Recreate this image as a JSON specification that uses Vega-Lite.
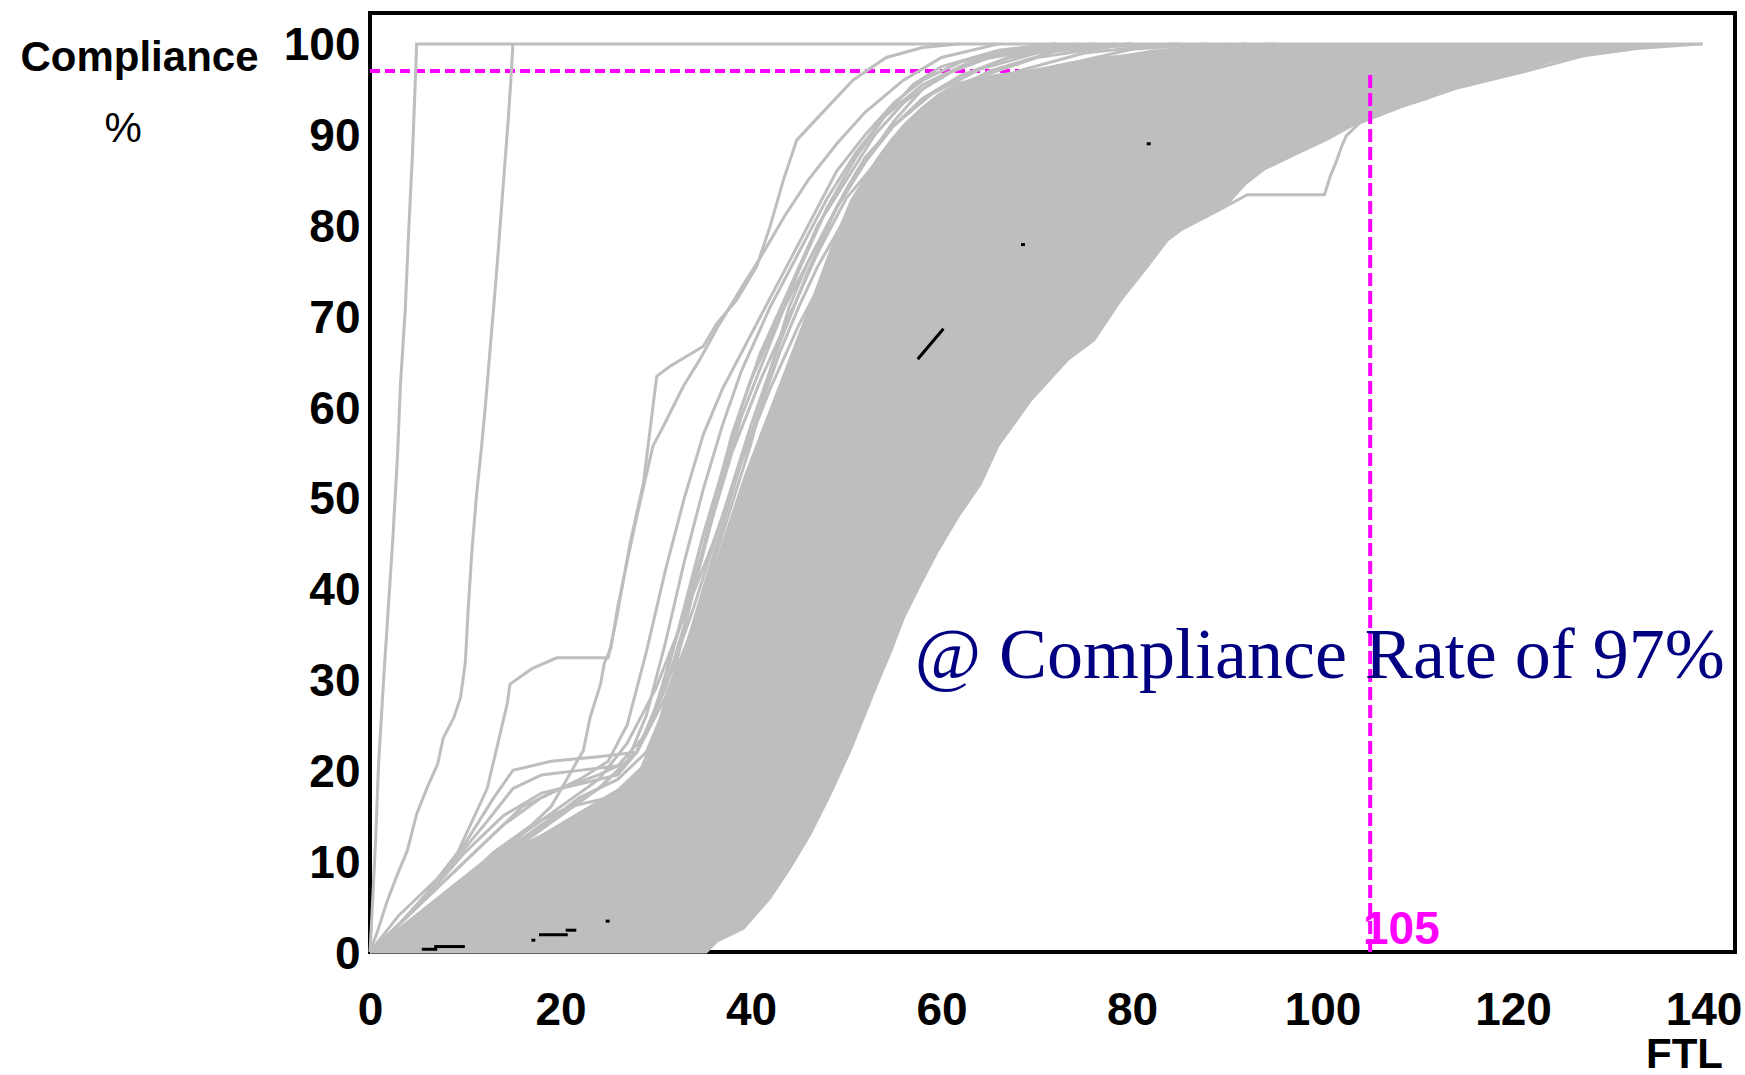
{
  "$schema": "https://vega.github.io/schema/vega-lite/v6.json",
  "width": 1365,
  "height": 939,
  "autosize": {"type": "none"},
  "padding": {"left": 370, "top": 13, "right": 10, "bottom": 123},
  "background": "#ffffff",
  "config": {"view": {"stroke": "#000000", "strokeWidth": 4}},
  "datasets": {
    "band": [
      {"x": 0, "y": 0, "y2": 0}, {"x": 3, "y": 0, "y2": 2.5}, {"x": 6, "y": 0, "y2": 5}, {"x": 10, "y": 0, "y2": 8},
      {"x": 14, "y": 0, "y2": 11}, {"x": 18, "y": 0, "y2": 13}, {"x": 22, "y": 0, "y2": 15.5}, {"x": 26, "y": 0, "y2": 18},
      {"x": 29, "y": 0, "y2": 21}, {"x": 31, "y": 0, "y2": 27}, {"x": 33, "y": 0, "y2": 33}, {"x": 35.3, "y": 0, "y2": 40.5},
      {"x": 36.4, "y": 1.2, "y2": 43.5}, {"x": 38, "y": 2, "y2": 48.5}, {"x": 39.2, "y": 2.6, "y2": 52.3}, {"x": 40, "y": 3.5, "y2": 54.5},
      {"x": 42, "y": 6, "y2": 60}, {"x": 44.1, "y": 9.3, "y2": 65.7}, {"x": 46.2, "y": 13, "y2": 71.5}, {"x": 48.3, "y": 17.4, "y2": 77.5},
      {"x": 50.4, "y": 22.2, "y2": 82.8}, {"x": 52, "y": 26, "y2": 85.5}, {"x": 53.2, "y": 29.5, "y2": 87.5}, {"x": 54.7, "y": 33.2, "y2": 89.6},
      {"x": 56, "y": 36.8, "y2": 91.2}, {"x": 57.8, "y": 40.6, "y2": 93}, {"x": 59.6, "y": 44.2, "y2": 94.5}, {"x": 61.7, "y": 47.9, "y2": 95.8},
      {"x": 64.1, "y": 51.6, "y2": 96.4}, {"x": 65.9, "y": 55.7, "y2": 96.7}, {"x": 68, "y": 58.5, "y2": 97}, {"x": 69.3, "y": 60.7, "y2": 97.2},
      {"x": 71, "y": 62.8, "y2": 97.5}, {"x": 73.2, "y": 65.2, "y2": 98}, {"x": 75, "y": 66.5, "y2": 98.3}, {"x": 76, "y": 67.4, "y2": 98.5},
      {"x": 78.8, "y": 71.8, "y2": 98.8}, {"x": 80, "y": 73.5, "y2": 99}, {"x": 81.6, "y": 75.5, "y2": 99.2}, {"x": 83.7, "y": 78.4, "y2": 99.4},
      {"x": 85.1, "y": 79.5, "y2": 99.5}, {"x": 88.6, "y": 81.4, "y2": 99.8}, {"x": 90.3, "y": 82.5, "y2": 100}, {"x": 92, "y": 84.5, "y2": 100},
      {"x": 94, "y": 86.1, "y2": 100}, {"x": 97.2, "y": 87.7, "y2": 100}, {"x": 100.6, "y": 89.4, "y2": 100}, {"x": 103.9, "y": 91.3, "y2": 100},
      {"x": 106, "y": 92.1, "y2": 100}, {"x": 108.1, "y": 93, "y2": 100}, {"x": 110.9, "y": 93.8, "y2": 100}, {"x": 114, "y": 95.1, "y2": 100},
      {"x": 117.6, "y": 96, "y2": 100}, {"x": 121.4, "y": 97, "y2": 100}, {"x": 123.9, "y": 97.9, "y2": 100}, {"x": 127.4, "y": 98.7, "y2": 100},
      {"x": 130.8, "y": 99.2, "y2": 100}, {"x": 134, "y": 99.5, "y2": 100}, {"x": 137.8, "y": 99.8, "y2": 100}, {"x": 139.9, "y": 100, "y2": 100}
    ],
    "curves": [
      {"id": "O1", "x": 0, "y": 0}, {"id": "O1", "x": 0.2, "y": 4}, {"id": "O1", "x": 0.6, "y": 12.6}, {"id": "O1", "x": 0.9, "y": 20.7},
      {"id": "O1", "x": 1.4, "y": 29.5}, {"id": "O1", "x": 1.9, "y": 37.6}, {"id": "O1", "x": 2.4, "y": 45.6}, {"id": "O1", "x": 2.9, "y": 54.9},
      {"id": "O1", "x": 3.2, "y": 62.6}, {"id": "O1", "x": 3.7, "y": 70.7}, {"id": "O1", "x": 4.05, "y": 79.2}, {"id": "O1", "x": 4.45, "y": 87.7},
      {"id": "O1", "x": 4.75, "y": 95.7}, {"id": "O1", "x": 4.9, "y": 100}, {"id": "O1", "x": 139.9, "y": 100},

      {"id": "O2", "x": 0, "y": 0}, {"id": "O2", "x": 0.8, "y": 2.3}, {"id": "O2", "x": 1.8, "y": 5.6}, {"id": "O2", "x": 2.9, "y": 8.6},
      {"id": "O2", "x": 3.9, "y": 11.1}, {"id": "O2", "x": 4.9, "y": 15.2}, {"id": "O2", "x": 6, "y": 18.1}, {"id": "O2", "x": 7.1, "y": 20.7},
      {"id": "O2", "x": 7.7, "y": 23.6}, {"id": "O2", "x": 8.8, "y": 25.8}, {"id": "O2", "x": 9.5, "y": 28}, {"id": "O2", "x": 10, "y": 31.8},
      {"id": "O2", "x": 10.3, "y": 37.6}, {"id": "O2", "x": 10.7, "y": 44.2}, {"id": "O2", "x": 11.2, "y": 50.5}, {"id": "O2", "x": 11.7, "y": 55.5},
      {"id": "O2", "x": 12.1, "y": 60}, {"id": "O2", "x": 12.5, "y": 65}, {"id": "O2", "x": 12.9, "y": 70}, {"id": "O2", "x": 13.3, "y": 75},
      {"id": "O2", "x": 13.7, "y": 80.5}, {"id": "O2", "x": 14.1, "y": 86}, {"id": "O2", "x": 14.5, "y": 91.5}, {"id": "O2", "x": 14.85, "y": 97},
      {"id": "O2", "x": 15, "y": 100},

      {"id": "O3", "x": 0, "y": 0}, {"id": "O3", "x": 3, "y": 3}, {"id": "O3", "x": 6, "y": 6.5}, {"id": "O3", "x": 9, "y": 10.5},
      {"id": "O3", "x": 12.3, "y": 18}, {"id": "O3", "x": 14.4, "y": 27.3}, {"id": "O3", "x": 14.7, "y": 29.5}, {"id": "O3", "x": 17, "y": 31.2},
      {"id": "O3", "x": 19.6, "y": 32.4}, {"id": "O3", "x": 25, "y": 32.4}, {"id": "O3", "x": 25.9, "y": 36.8}, {"id": "O3", "x": 27.3, "y": 45},
      {"id": "O3", "x": 28.7, "y": 51.6}, {"id": "O3", "x": 30.1, "y": 63.4}, {"id": "O3", "x": 31.5, "y": 64.5}, {"id": "O3", "x": 35, "y": 66.7},
      {"id": "O3", "x": 36.4, "y": 69.2}, {"id": "O3", "x": 38.5, "y": 71.8}, {"id": "O3", "x": 40.6, "y": 75.5}, {"id": "O3", "x": 42, "y": 79.9},
      {"id": "O3", "x": 43.4, "y": 85}, {"id": "O3", "x": 44.8, "y": 89.4}, {"id": "O3", "x": 47.2, "y": 92.1}, {"id": "O3", "x": 50.7, "y": 96},
      {"id": "O3", "x": 54.2, "y": 98.5}, {"id": "O3", "x": 58, "y": 99.6}, {"id": "O3", "x": 62, "y": 100},

      {"id": "O3b", "x": 0, "y": 0}, {"id": "O3b", "x": 5, "y": 4}, {"id": "O3b", "x": 10, "y": 8}, {"id": "O3b", "x": 15, "y": 12},
      {"id": "O3b", "x": 19, "y": 16}, {"id": "O3b", "x": 22.4, "y": 22.2}, {"id": "O3b", "x": 23.1, "y": 25.8}, {"id": "O3b", "x": 24.2, "y": 29.5},
      {"id": "O3b", "x": 24.6, "y": 31.8}, {"id": "O3b", "x": 25.3, "y": 33.5}, {"id": "O3b", "x": 26, "y": 38}, {"id": "O3b", "x": 27, "y": 43},
      {"id": "O3b", "x": 28, "y": 47.9}, {"id": "O3b", "x": 29.7, "y": 55.7}, {"id": "O3b", "x": 30.8, "y": 57.9}, {"id": "O3b", "x": 32.9, "y": 62.3},
      {"id": "O3b", "x": 34.6, "y": 65.2}, {"id": "O3b", "x": 36.6, "y": 69}, {"id": "O3b", "x": 38.8, "y": 72.8}, {"id": "O3b", "x": 41, "y": 76.5},
      {"id": "O3b", "x": 43.5, "y": 81}, {"id": "O3b", "x": 46, "y": 85}, {"id": "O3b", "x": 49, "y": 89}, {"id": "O3b", "x": 52, "y": 92.5},
      {"id": "O3b", "x": 56, "y": 96}, {"id": "O3b", "x": 60, "y": 98.5}, {"id": "O3b", "x": 66, "y": 100},

      {"id": "O4", "x": 0, "y": 0}, {"id": "O4", "x": 35.3, "y": 0}, {"id": "O4", "x": 36.4, "y": 1.2}, {"id": "O4", "x": 39.2, "y": 2.6},
      {"id": "O4", "x": 42, "y": 6}, {"id": "O4", "x": 44.1, "y": 9.3}, {"id": "O4", "x": 46.2, "y": 13}, {"id": "O4", "x": 48.3, "y": 17.4},
      {"id": "O4", "x": 50.4, "y": 22.2}, {"id": "O4", "x": 53.2, "y": 29.5}, {"id": "O4", "x": 54.7, "y": 33.2}, {"id": "O4", "x": 56, "y": 36.8},
      {"id": "O4", "x": 57.8, "y": 40.6}, {"id": "O4", "x": 59.6, "y": 44.2}, {"id": "O4", "x": 61.7, "y": 47.9}, {"id": "O4", "x": 64.1, "y": 51.6},
      {"id": "O4", "x": 65.9, "y": 55.7}, {"id": "O4", "x": 69.3, "y": 60.7}, {"id": "O4", "x": 73.2, "y": 65.2}, {"id": "O4", "x": 76, "y": 67.4},
      {"id": "O4", "x": 78.8, "y": 71.8}, {"id": "O4", "x": 81.6, "y": 75.5}, {"id": "O4", "x": 83.7, "y": 78.4}, {"id": "O4", "x": 85.1, "y": 79.5},
      {"id": "O4", "x": 88.6, "y": 81.4}, {"id": "O4", "x": 92.1, "y": 83.4}, {"id": "O4", "x": 100.2, "y": 83.4}, {"id": "O4", "x": 100.8, "y": 85.4},
      {"id": "O4", "x": 101.5, "y": 87.2}, {"id": "O4", "x": 102, "y": 88.7}, {"id": "O4", "x": 102.5, "y": 89.9}, {"id": "O4", "x": 103.9, "y": 91.3},
      {"id": "O4", "x": 108.1, "y": 93}, {"id": "O4", "x": 114, "y": 95.1}, {"id": "O4", "x": 121.4, "y": 97}, {"id": "O4", "x": 127.4, "y": 98.7},
      {"id": "O4", "x": 133, "y": 99.5}, {"id": "O4", "x": 139.9, "y": 100},

      {"id": "S1", "x": 0, "y": 0}, {"id": "S1", "x": 4, "y": 4}, {"id": "S1", "x": 8, "y": 9}, {"id": "S1", "x": 12, "y": 14},
      {"id": "S1", "x": 15, "y": 18}, {"id": "S1", "x": 18, "y": 19.5}, {"id": "S1", "x": 22, "y": 20}, {"id": "S1", "x": 26, "y": 20.5},
      {"id": "S1", "x": 29, "y": 24}, {"id": "S1", "x": 31, "y": 30}, {"id": "S1", "x": 33, "y": 38}, {"id": "S1", "x": 35, "y": 46},
      {"id": "S1", "x": 37, "y": 53}, {"id": "S1", "x": 39, "y": 60}, {"id": "S1", "x": 41, "y": 66}, {"id": "S1", "x": 44, "y": 73},
      {"id": "S1", "x": 47, "y": 80}, {"id": "S1", "x": 50, "y": 85}, {"id": "S1", "x": 53, "y": 90}, {"id": "S1", "x": 56, "y": 93.5},
      {"id": "S1", "x": 60, "y": 96.5}, {"id": "S1", "x": 65, "y": 98.5}, {"id": "S1", "x": 72, "y": 99.6}, {"id": "S1", "x": 80, "y": 100},

      {"id": "S2", "x": 0, "y": 0}, {"id": "S2", "x": 5, "y": 5}, {"id": "S2", "x": 10, "y": 11}, {"id": "S2", "x": 14, "y": 15},
      {"id": "S2", "x": 18, "y": 17.5}, {"id": "S2", "x": 22, "y": 18.5}, {"id": "S2", "x": 26, "y": 19.5}, {"id": "S2", "x": 28, "y": 22},
      {"id": "S2", "x": 30, "y": 27}, {"id": "S2", "x": 32, "y": 34}, {"id": "S2", "x": 34, "y": 41}, {"id": "S2", "x": 36, "y": 48},
      {"id": "S2", "x": 38, "y": 55}, {"id": "S2", "x": 41, "y": 63}, {"id": "S2", "x": 44, "y": 70}, {"id": "S2", "x": 47, "y": 77},
      {"id": "S2", "x": 50, "y": 83}, {"id": "S2", "x": 54, "y": 88}, {"id": "S2", "x": 58, "y": 92.5}, {"id": "S2", "x": 63, "y": 96},
      {"id": "S2", "x": 70, "y": 98.5}, {"id": "S2", "x": 78, "y": 99.7}, {"id": "S2", "x": 85, "y": 100},

      {"id": "S3", "x": 0, "y": 0}, {"id": "S3", "x": 6, "y": 5}, {"id": "S3", "x": 12, "y": 10}, {"id": "S3", "x": 16, "y": 13},
      {"id": "S3", "x": 20, "y": 16}, {"id": "S3", "x": 24, "y": 19}, {"id": "S3", "x": 27, "y": 23}, {"id": "S3", "x": 30, "y": 29},
      {"id": "S3", "x": 33, "y": 37}, {"id": "S3", "x": 36, "y": 45}, {"id": "S3", "x": 39, "y": 54}, {"id": "S3", "x": 42, "y": 62},
      {"id": "S3", "x": 45, "y": 69}, {"id": "S3", "x": 48, "y": 75}, {"id": "S3", "x": 51, "y": 81}, {"id": "S3", "x": 54, "y": 86},
      {"id": "S3", "x": 58, "y": 90.5}, {"id": "S3", "x": 62, "y": 94}, {"id": "S3", "x": 68, "y": 97}, {"id": "S3", "x": 75, "y": 99},
      {"id": "S3", "x": 84, "y": 100},

      {"id": "S4", "x": 0, "y": 0}, {"id": "S4", "x": 3, "y": 4}, {"id": "S4", "x": 7, "y": 8}, {"id": "S4", "x": 10, "y": 12},
      {"id": "S4", "x": 13, "y": 17}, {"id": "S4", "x": 15, "y": 20}, {"id": "S4", "x": 19, "y": 21}, {"id": "S4", "x": 24, "y": 21.5},
      {"id": "S4", "x": 28, "y": 22}, {"id": "S4", "x": 31, "y": 29}, {"id": "S4", "x": 33, "y": 36}, {"id": "S4", "x": 35, "y": 44},
      {"id": "S4", "x": 37, "y": 52}, {"id": "S4", "x": 39, "y": 59}, {"id": "S4", "x": 42, "y": 67}, {"id": "S4", "x": 45, "y": 75},
      {"id": "S4", "x": 48, "y": 82}, {"id": "S4", "x": 51, "y": 87.5}, {"id": "S4", "x": 54, "y": 92}, {"id": "S4", "x": 57, "y": 95.5},
      {"id": "S4", "x": 60, "y": 97.5}, {"id": "S4", "x": 66, "y": 99.3}, {"id": "S4", "x": 72, "y": 100},

      {"id": "S5", "x": 0, "y": 0}, {"id": "S5", "x": 8, "y": 6}, {"id": "S5", "x": 16, "y": 12}, {"id": "S5", "x": 24, "y": 18},
      {"id": "S5", "x": 28, "y": 22}, {"id": "S5", "x": 31, "y": 28}, {"id": "S5", "x": 34, "y": 36}, {"id": "S5", "x": 37, "y": 46},
      {"id": "S5", "x": 40, "y": 56}, {"id": "S5", "x": 42, "y": 64}, {"id": "S5", "x": 44, "y": 71}, {"id": "S5", "x": 46, "y": 76},
      {"id": "S5", "x": 48, "y": 80}, {"id": "S5", "x": 50, "y": 84}, {"id": "S5", "x": 52, "y": 87.5}, {"id": "S5", "x": 55, "y": 91},
      {"id": "S5", "x": 58, "y": 94}, {"id": "S5", "x": 62, "y": 96.5}, {"id": "S5", "x": 67, "y": 98.5}, {"id": "S5", "x": 74, "y": 99.6},
      {"id": "S5", "x": 80, "y": 100},

      {"id": "S6", "x": 0, "y": 0}, {"id": "S6", "x": 10, "y": 6}, {"id": "S6", "x": 20, "y": 12}, {"id": "S6", "x": 26, "y": 16},
      {"id": "S6", "x": 30, "y": 21}, {"id": "S6", "x": 33, "y": 28}, {"id": "S6", "x": 36, "y": 37}, {"id": "S6", "x": 39, "y": 47},
      {"id": "S6", "x": 42, "y": 57}, {"id": "S6", "x": 45, "y": 65}, {"id": "S6", "x": 48, "y": 72}, {"id": "S6", "x": 51, "y": 78},
      {"id": "S6", "x": 54, "y": 83}, {"id": "S6", "x": 57, "y": 87}, {"id": "S6", "x": 60, "y": 90.5}, {"id": "S6", "x": 64, "y": 93.5},
      {"id": "S6", "x": 68, "y": 95.5}, {"id": "S6", "x": 74, "y": 97.5}, {"id": "S6", "x": 82, "y": 99.2}, {"id": "S6", "x": 90, "y": 100},

      {"id": "S7", "x": 0, "y": 0}, {"id": "S7", "x": 5, "y": 2}, {"id": "S7", "x": 10, "y": 5}, {"id": "S7", "x": 15, "y": 8},
      {"id": "S7", "x": 20, "y": 11}, {"id": "S7", "x": 25, "y": 14}, {"id": "S7", "x": 29, "y": 18}, {"id": "S7", "x": 32, "y": 24},
      {"id": "S7", "x": 35, "y": 32}, {"id": "S7", "x": 38, "y": 42}, {"id": "S7", "x": 41, "y": 52}, {"id": "S7", "x": 44, "y": 61},
      {"id": "S7", "x": 47, "y": 69}, {"id": "S7", "x": 50, "y": 75}, {"id": "S7", "x": 53, "y": 80}, {"id": "S7", "x": 56, "y": 84.5},
      {"id": "S7", "x": 60, "y": 89}, {"id": "S7", "x": 65, "y": 93}, {"id": "S7", "x": 70, "y": 95.5}, {"id": "S7", "x": 77, "y": 97.8},
      {"id": "S7", "x": 85, "y": 99.3}, {"id": "S7", "x": 92, "y": 100},

      {"id": "S8", "x": 0, "y": 0}, {"id": "S8", "x": 4, "y": 3}, {"id": "S8", "x": 9, "y": 7}, {"id": "S8", "x": 13, "y": 11},
      {"id": "S8", "x": 17, "y": 14}, {"id": "S8", "x": 21, "y": 16}, {"id": "S8", "x": 25, "y": 17}, {"id": "S8", "x": 28, "y": 19},
      {"id": "S8", "x": 30, "y": 24}, {"id": "S8", "x": 32, "y": 31}, {"id": "S8", "x": 34, "y": 40}, {"id": "S8", "x": 36, "y": 49},
      {"id": "S8", "x": 38, "y": 57}, {"id": "S8", "x": 40, "y": 63}, {"id": "S8", "x": 43, "y": 70}, {"id": "S8", "x": 46, "y": 76},
      {"id": "S8", "x": 49, "y": 82}, {"id": "S8", "x": 52, "y": 87}, {"id": "S8", "x": 55, "y": 91}, {"id": "S8", "x": 59, "y": 94.5},
      {"id": "S8", "x": 64, "y": 97.2}, {"id": "S8", "x": 70, "y": 99}, {"id": "S8", "x": 78, "y": 100},

      {"id": "S9", "x": 0, "y": 0}, {"id": "S9", "x": 10, "y": 8}, {"id": "S9", "x": 18, "y": 14}, {"id": "S9", "x": 24, "y": 18},
      {"id": "S9", "x": 28, "y": 22}, {"id": "S9", "x": 31, "y": 29}, {"id": "S9", "x": 34, "y": 38}, {"id": "S9", "x": 37, "y": 48},
      {"id": "S9", "x": 40, "y": 58}, {"id": "S9", "x": 43, "y": 67}, {"id": "S9", "x": 46, "y": 75}, {"id": "S9", "x": 49, "y": 82},
      {"id": "S9", "x": 52, "y": 87}, {"id": "S9", "x": 55, "y": 91.5}, {"id": "S9", "x": 58, "y": 95}, {"id": "S9", "x": 62, "y": 97.5},
      {"id": "S9", "x": 66, "y": 98.8}, {"id": "S9", "x": 72, "y": 100},

      {"id": "S10", "x": 0, "y": 0}, {"id": "S10", "x": 8, "y": 8}, {"id": "S10", "x": 14, "y": 14}, {"id": "S10", "x": 18, "y": 17},
      {"id": "S10", "x": 22, "y": 19}, {"id": "S10", "x": 25, "y": 21}, {"id": "S10", "x": 27, "y": 25}, {"id": "S10", "x": 29, "y": 33},
      {"id": "S10", "x": 31, "y": 42}, {"id": "S10", "x": 33, "y": 50}, {"id": "S10", "x": 35, "y": 57}, {"id": "S10", "x": 37, "y": 62},
      {"id": "S10", "x": 40, "y": 68}, {"id": "S10", "x": 43, "y": 74}, {"id": "S10", "x": 46, "y": 80}, {"id": "S10", "x": 49, "y": 86},
      {"id": "S10", "x": 52, "y": 90}, {"id": "S10", "x": 55, "y": 93.5}, {"id": "S10", "x": 58, "y": 96}, {"id": "S10", "x": 62, "y": 98},
      {"id": "S10", "x": 68, "y": 99.5}, {"id": "S10", "x": 74, "y": 100},

      {"id": "S11", "x": 0, "y": 0}, {"id": "S11", "x": 20, "y": 8}, {"id": "S11", "x": 30, "y": 15}, {"id": "S11", "x": 35, "y": 24},
      {"id": "S11", "x": 40, "y": 36}, {"id": "S11", "x": 45, "y": 50}, {"id": "S11", "x": 50, "y": 62}, {"id": "S11", "x": 54, "y": 71},
      {"id": "S11", "x": 58, "y": 79}, {"id": "S11", "x": 62, "y": 86}, {"id": "S11", "x": 66, "y": 91}, {"id": "S11", "x": 70, "y": 94.5},
      {"id": "S11", "x": 76, "y": 97.5}, {"id": "S11", "x": 84, "y": 99.3}, {"id": "S11", "x": 92, "y": 100},

      {"id": "S12", "x": 0, "y": 0}, {"id": "S12", "x": 15, "y": 7}, {"id": "S12", "x": 25, "y": 12}, {"id": "S12", "x": 32, "y": 19},
      {"id": "S12", "x": 37, "y": 30}, {"id": "S12", "x": 42, "y": 44}, {"id": "S12", "x": 47, "y": 57}, {"id": "S12", "x": 52, "y": 68},
      {"id": "S12", "x": 56, "y": 76}, {"id": "S12", "x": 60, "y": 83}, {"id": "S12", "x": 64, "y": 88.5}, {"id": "S12", "x": 68, "y": 92.5},
      {"id": "S12", "x": 73, "y": 96}, {"id": "S12", "x": 80, "y": 98.5}, {"id": "S12", "x": 88, "y": 99.7}, {"id": "S12", "x": 95, "y": 100},

      {"id": "S13", "x": 0, "y": 0}, {"id": "S13", "x": 6, "y": 4}, {"id": "S13", "x": 12, "y": 9}, {"id": "S13", "x": 17, "y": 13},
      {"id": "S13", "x": 22, "y": 17}, {"id": "S13", "x": 26, "y": 19}, {"id": "S13", "x": 29, "y": 22}, {"id": "S13", "x": 31, "y": 27},
      {"id": "S13", "x": 33, "y": 33}, {"id": "S13", "x": 35, "y": 40}, {"id": "S13", "x": 37, "y": 47}, {"id": "S13", "x": 39, "y": 54},
      {"id": "S13", "x": 41, "y": 60}, {"id": "S13", "x": 43, "y": 66}, {"id": "S13", "x": 45, "y": 71}, {"id": "S13", "x": 47, "y": 75.5},
      {"id": "S13", "x": 50, "y": 81}, {"id": "S13", "x": 53, "y": 86}, {"id": "S13", "x": 56, "y": 90}, {"id": "S13", "x": 60, "y": 94},
      {"id": "S13", "x": 65, "y": 97}, {"id": "S13", "x": 72, "y": 99.2}, {"id": "S13", "x": 80, "y": 100},

      {"id": "S14", "x": 0, "y": 0}, {"id": "S14", "x": 7, "y": 7}, {"id": "S14", "x": 12, "y": 12}, {"id": "S14", "x": 16, "y": 16},
      {"id": "S14", "x": 20, "y": 18}, {"id": "S14", "x": 24, "y": 19.5}, {"id": "S14", "x": 27, "y": 21}, {"id": "S14", "x": 29, "y": 26},
      {"id": "S14", "x": 31, "y": 34}, {"id": "S14", "x": 33, "y": 43}, {"id": "S14", "x": 35, "y": 51}, {"id": "S14", "x": 37, "y": 58},
      {"id": "S14", "x": 39, "y": 64}, {"id": "S14", "x": 42, "y": 71}, {"id": "S14", "x": 45, "y": 77}, {"id": "S14", "x": 48, "y": 83},
      {"id": "S14", "x": 51, "y": 88}, {"id": "S14", "x": 54, "y": 92}, {"id": "S14", "x": 58, "y": 95.5}, {"id": "S14", "x": 63, "y": 98},
      {"id": "S14", "x": 70, "y": 99.5}, {"id": "S14", "x": 76, "y": 100},

      {"id": "S15", "x": 0, "y": 0}, {"id": "S15", "x": 9, "y": 5}, {"id": "S15", "x": 18, "y": 10}, {"id": "S15", "x": 25, "y": 15},
      {"id": "S15", "x": 30, "y": 20}, {"id": "S15", "x": 33, "y": 26}, {"id": "S15", "x": 36, "y": 35}, {"id": "S15", "x": 39, "y": 45},
      {"id": "S15", "x": 42, "y": 55}, {"id": "S15", "x": 45, "y": 63}, {"id": "S15", "x": 48, "y": 70}, {"id": "S15", "x": 51, "y": 76},
      {"id": "S15", "x": 54, "y": 81.5}, {"id": "S15", "x": 57, "y": 86}, {"id": "S15", "x": 61, "y": 90.5}, {"id": "S15", "x": 66, "y": 94.5},
      {"id": "S15", "x": 72, "y": 97.5}, {"id": "S15", "x": 80, "y": 99.4}, {"id": "S15", "x": 88, "y": 100}
    ],
    "specks": [
      {"id": "B1", "x": 5.6, "y": 0.3}, {"id": "B1", "x": 6.9, "y": 0.3},
      {"id": "B1b", "x": 6.9, "y": 0.6}, {"id": "B1b", "x": 9.8, "y": 0.6},
      {"id": "B2", "x": 17.9, "y": 1.9}, {"id": "B2", "x": 20.6, "y": 1.9},
      {"id": "B2b", "x": 20.7, "y": 2.4}, {"id": "B2b", "x": 21.5, "y": 2.4},
      {"id": "B3", "x": 17.1, "y": 1.3}, {"id": "B3", "x": 17.2, "y": 1.3},
      {"id": "B4", "x": 24.9, "y": 3.4}, {"id": "B4", "x": 25.0, "y": 3.4},
      {"id": "B5", "x": 57.6, "y": 65.4}, {"id": "B5", "x": 60.1, "y": 68.5},
      {"id": "B6", "x": 68.5, "y": 77.9}, {"id": "B6", "x": 68.6, "y": 77.9},
      {"id": "B7", "x": 81.7, "y": 89}, {"id": "B7", "x": 81.8, "y": 89}
    ],
    "hline": [{"x": 0, "x2": 105, "y": 97}],
    "vline": [{"x": 105, "y": 0, "y2": 97}],
    "vlabel": [{"x": 104.25, "y": 0.9, "label": "105"}],
    "note": [{"x": 99.7, "y": 30.2, "label": "@ Compliance Rate of 97%"}],
    "unit": [{"x": -25.9, "y": 89.2, "label": "%"}]
  },
  "encoding": {
    "x": {
      "field": "x", "type": "quantitative",
      "scale": {"domain": [0, 143.3], "nice": false, "zero": false},
      "axis": {
        "title": "FTL", "titleX": 1314, "titleY": 115, "titleAlign": "center", "titleBaseline": "alphabetic",
        "titleFont": "Liberation Sans", "titleFontSize": 42, "titleFontWeight": "bold", "titleColor": "#000000",
        "values": [0, 20, 40, 60, 80, 100, 120, 140],
        "labelFont": "Liberation Sans", "labelFontSize": 46, "labelFontWeight": "bold",
        "labelColor": "#000000", "labelBaseline": "alphabetic", "labelPadding": 72, "labelFlush": false,
        "labelOverlap": false, "labelBound": false, "ticks": false, "tickSize": 0, "domain": false, "grid": false
      }
    },
    "y": {
      "field": "y", "type": "quantitative",
      "scale": {"domain": [0, 103.4], "nice": false, "zero": false},
      "axis": {
        "title": "Compliance", "titleX": -231, "titleY": 57, "titleAngle": 0, "titleAlign": "center", "titleBaseline": "alphabetic",
        "titleFont": "Liberation Sans", "titleFontSize": 42, "titleFontWeight": "bold", "titleColor": "#000000",
        "values": [0, 10, 20, 30, 40, 50, 60, 70, 80, 90, 100],
        "labelFont": "Liberation Sans", "labelFontSize": 46, "labelFontWeight": "bold",
        "labelColor": "#000000", "labelAlign": "right", "labelBaseline": "alphabetic", "labelOffset": 16, "labelPadding": 10,
        "labelFlush": false, "labelOverlap": false, "labelBound": false, "ticks": false, "tickSize": 0, "domain": false, "grid": false
      }
    }
  },
  "layer": [
    {
      "data": {"name": "hline"},
      "mark": {"type": "rule", "color": "#ff00ff", "strokeWidth": 4, "strokeDash": [10, 5]},
      "encoding": {"x2": {"field": "x2"}}
    },
    {
      "data": {"name": "band"},
      "mark": {"type": "area", "color": "#bebebe", "opacity": 1},
      "encoding": {"y2": {"field": "y2"}}
    },
    {
      "data": {"name": "curves"},
      "mark": {"type": "line", "color": "#bebebe", "strokeWidth": 3},
      "encoding": {"detail": {"field": "id", "type": "nominal"}}
    },
    {
      "data": {"name": "specks"},
      "mark": {"type": "line", "color": "#000000", "strokeWidth": 3, "strokeCap": "square"},
      "encoding": {"detail": {"field": "id", "type": "nominal"}}
    },
    {
      "data": {"name": "vline"},
      "mark": {"type": "rule", "color": "#ff00ff", "strokeWidth": 4, "strokeDash": [13, 5]},
      "encoding": {"y2": {"field": "y2"}}
    },
    {
      "data": {"name": "vlabel"},
      "mark": {"type": "text", "color": "#ff00ff", "font": "Liberation Sans", "fontSize": 46, "fontWeight": "bold", "align": "left", "baseline": "alphabetic"},
      "encoding": {"text": {"field": "label", "type": "nominal"}}
    },
    {
      "data": {"name": "note"},
      "mark": {"type": "text", "color": "#000080", "font": "Liberation Serif", "fontSize": 72, "align": "center", "baseline": "alphabetic"},
      "encoding": {"text": {"field": "label", "type": "nominal"}}
    },
    {
      "data": {"name": "unit"},
      "mark": {"type": "text", "color": "#000000", "font": "Liberation Sans", "fontSize": 42, "align": "center", "baseline": "alphabetic"},
      "encoding": {"text": {"field": "label", "type": "nominal"}}
    }
  ]
}
